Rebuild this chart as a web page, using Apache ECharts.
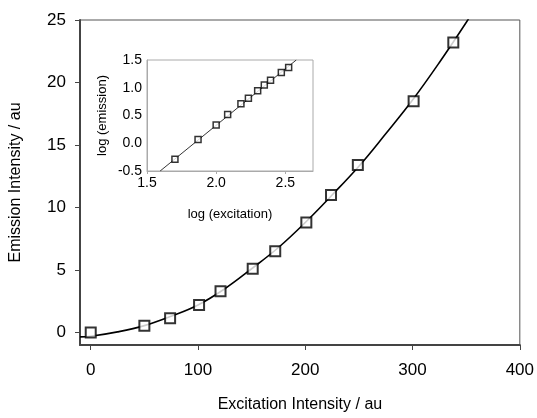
<!DOCTYPE html>
<html><head><meta charset="utf-8">
<script src="https://cdn.jsdelivr.net/npm/echarts@6/dist/echarts.min.js"></script>
<style>html,body{margin:0;padding:0;background:#fff}#c{width:537px;height:418px}</style>
</head><body><div id="c"></div>
<script>
// main data
const excitation = [0, 50, 74, 101, 121, 151, 172, 201, 224, 249, 301, 338];
const emission   = [0, 0.55, 1.15, 2.2, 3.3, 5.1, 6.5, 8.8, 11.0, 13.4, 18.5, 23.2];
// fitted curve
const fitX = [-10, 0, 25, 50, 75, 100, 125, 150, 175, 200, 225, 250, 275, 300, 325, 350, 360];
const fitY = [-0.35, -0.3, 0.05, 0.55, 1.3, 2.2, 3.5, 5.1, 6.8, 8.8, 11.0, 13.3, 15.9, 18.6, 21.6, 24.8, 26.2];
// inset (log-log)
const logExc = [1.702, 1.869, 2.0, 2.083, 2.179, 2.233, 2.3, 2.348, 2.393, 2.471, 2.524];
const logEm  = [-0.289, 0.066, 0.331, 0.518, 0.711, 0.813, 0.946, 1.048, 1.133, 1.277, 1.367];
const logFitX = [1.595, 2.579];
const logFitY = [-0.5, 1.5];
const mainXTicks = [0, 100, 200, 300, 400];
const mainYTicks = [0, 5, 10, 15, 20, 25];
const insetXTicks = [1.5, 2.0, 2.5];

const zip = (a, b) => a.map((v, i) => [v, b[i]]);
const font = 'Liberation Sans, Arial, sans-serif';
const chart = echarts.init(document.getElementById('c'), null, {renderer: 'canvas'});
chart.setOption({
  animation: false,
  grid: [
    {left: 75, top: 20, width: 447, height: 330, show: true, borderColor: '#555', borderWidth: 1},
    {left: 147, top: 60, width: 166, height: 111, show: true, borderColor: '#aaa', borderWidth: 1, z: 5}
  ],
  xAxis: [
    {gridIndex: 0, type: 'value', min: -10, max: 400,
     name: 'Excitation Intensity / au', nameLocation: 'middle', nameGap: 52,
     nameTextStyle: {fontFamily: font, fontSize: 16, color: '#000'},
     axisLine: {show: true, onZero: false, lineStyle: {color: '#444', width: 2}},
     axisTick: {show: true, length: 5, lineStyle: {color: '#444'}, customValues: mainXTicks},
     axisLabel: {fontFamily: font, fontSize: 17, color: '#000', margin: 17, customValues: mainXTicks},
     splitLine: {show: false}},
    {gridIndex: 1, type: 'value', min: 1.5, max: 2.7,
     name: 'log (excitation)', nameLocation: 'middle', nameGap: 37,
     nameTextStyle: {fontFamily: font, fontSize: 13, color: '#000'},
     axisLine: {show: true, onZero: false, lineStyle: {color: '#aaa', width: 1}},
     axisTick: {show: true, length: 3, lineStyle: {color: '#aaa'}, customValues: insetXTicks},
     axisLabel: {fontFamily: font, fontSize: 14, color: '#000', margin: 5, customValues: insetXTicks,
       formatter: v => v.toFixed(1)},
     splitLine: {show: false}}
  ],
  yAxis: [
    {gridIndex: 0, type: 'value', min: -1, max: 25,
     name: 'Emission Intensity / au', nameLocation: 'middle', nameGap: 56,
     nameTextStyle: {fontFamily: font, fontSize: 16, color: '#000'},
     axisLine: {show: true, onZero: false, lineStyle: {color: '#444', width: 2}},
     axisTick: {show: true, length: 5, lineStyle: {color: '#444'}, customValues: mainYTicks},
     axisLabel: {fontFamily: font, fontSize: 17, color: '#000', margin: 14, customValues: mainYTicks},
     splitLine: {show: false}},
    {gridIndex: 1, type: 'value', min: -0.5, max: 1.5, interval: 0.5,
     name: 'log (emission)', nameLocation: 'middle', nameGap: 38,
     nameTextStyle: {fontFamily: font, fontSize: 13, color: '#000'},
     axisLine: {show: true, onZero: false, lineStyle: {color: '#aaa', width: 1}},
     axisTick: {show: false},
     axisLabel: {fontFamily: font, fontSize: 14, color: '#000', margin: 5,
       formatter: v => v.toFixed(1)},
     splitLine: {show: false}}
  ],
  series: [
    {type: 'line', xAxisIndex: 0, yAxisIndex: 0, data: zip(fitX, fitY), smooth: 0.4,
     showSymbol: false, clip: true, lineStyle: {color: '#000', width: 1.6}, z: 2},
    {type: 'scatter', xAxisIndex: 0, yAxisIndex: 0, data: zip(excitation, emission),
     symbol: 'rect', symbolSize: 10,
     itemStyle: {color: '#fff', borderColor: '#000', borderWidth: 2}, z: 3},
    {type: 'line', xAxisIndex: 1, yAxisIndex: 1, data: zip(logFitX, logFitY),
     showSymbol: false, clip: true, lineStyle: {color: '#000', width: 0.8}, z: 6},
    {type: 'scatter', xAxisIndex: 1, yAxisIndex: 1, data: zip(logExc, logEm),
     symbol: 'rect', symbolSize: 6,
     itemStyle: {color: '#fff', borderColor: '#000', borderWidth: 1.5}, z: 7}
  ]
});
</script></body></html>
